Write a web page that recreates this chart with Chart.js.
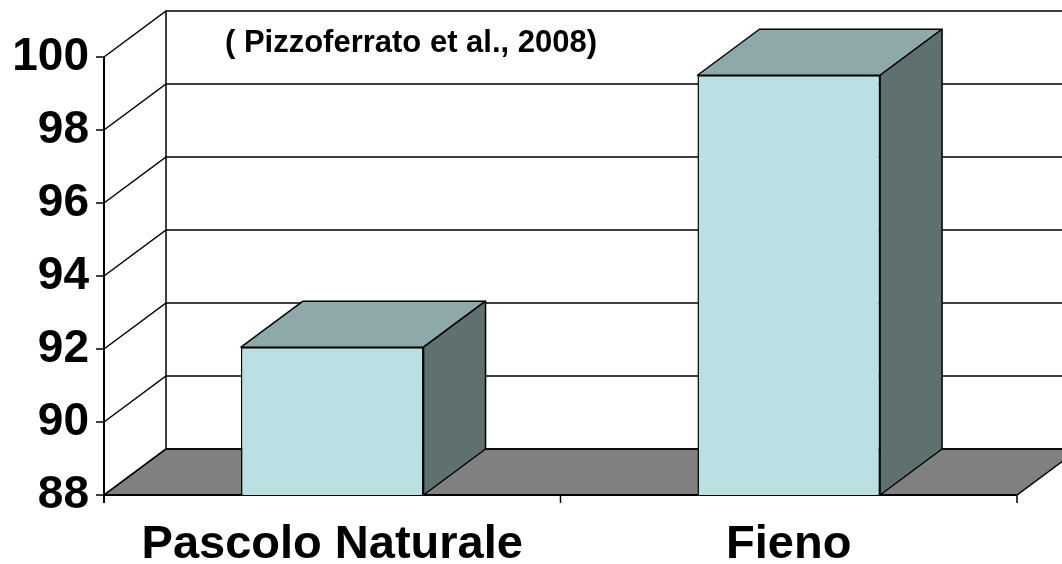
<!DOCTYPE html>
<html>
<head>
<meta charset="utf-8">
<script src="https://cdn.jsdelivr.net/npm/chart.js@4"></script>
<style>
    html, body { margin: 0; padding: 0; background: #fff; }
    canvas { display: block; }
</style>
</head>
<body>
<canvas id="chart" width="1062" height="564"></canvas>
<script>
const categories = ['Pascolo Naturale', 'Fieno'];
const values = [92.05, 99.5];
const yTicks = [88, 90, 92, 94, 96, 98, 100];
const sourceNote = '( Pizzoferrato et al., 2008)';

const FONT = "'Liberation Sans', Arial, sans-serif";
const FRONT_COLOR = '#bbe0e3';
const TOP_COLOR = '#8fa9ab';
const SIDE_COLOR = '#5f7070';
const FLOOR_COLOR = '#808080';
// depth of the 3d box (pixels to the back wall)
const DEPTH_X = 62;
const DEPTH_Y = 46;

function poly(ctx, pts, fill) {
    ctx.beginPath();
    ctx.moveTo(pts[0][0], pts[0][1]);
    for (let i = 1; i < pts.length; i++) ctx.lineTo(pts[i][0], pts[i][1]);
    ctx.closePath();
    if (fill) {
        ctx.fillStyle = fill;
        ctx.fill();
    }
    ctx.stroke();
}

const threeD = {
    id: 'threeD',
    beforeDatasetsDraw(chart) {
        const ctx = chart.ctx;
        const { left, right, top, bottom } = chart.chartArea;
        const y = chart.scales.y;
        ctx.save();
        ctx.strokeStyle = '#000';
        ctx.lineWidth = 1.5;

        // floor
        poly(ctx, [[left, bottom], [right, bottom], [right + DEPTH_X, bottom - DEPTH_Y], [left + DEPTH_X, bottom - DEPTH_Y]], FLOOR_COLOR);

        // side wall + back wall grid lines
        yTicks.forEach(v => {
            const py = y.getPixelForValue(v);
            ctx.beginPath();
            ctx.moveTo(left, py);
            ctx.lineTo(left + DEPTH_X, py - DEPTH_Y);
            ctx.lineTo(right + DEPTH_X, py - DEPTH_Y);
            ctx.stroke();
            // tick mark on the front axis
            ctx.beginPath();
            ctx.moveTo(left - 8, py);
            ctx.lineTo(left, py);
            ctx.stroke();
        });
        ctx.beginPath();
        ctx.moveTo(left + DEPTH_X, top - DEPTH_Y);
        ctx.lineTo(left + DEPTH_X, bottom - DEPTH_Y);
        ctx.stroke();

        // front axis
        ctx.lineWidth = 2;
        ctx.beginPath();
        ctx.moveTo(left, top);
        ctx.lineTo(left, bottom + 8);
        ctx.moveTo(left, bottom);
        ctx.lineTo(right, bottom);
        ctx.stroke();
        ctx.lineWidth = 1.5;
        const step = (right - left) / categories.length;
        for (let i = 1; i <= categories.length; i++) {
            ctx.beginPath();
            ctx.moveTo(left + step * i, bottom);
            ctx.lineTo(left + step * i, bottom + 8);
            ctx.stroke();
        }
        ctx.restore();
    },
    afterDatasetsDraw(chart) {
        const ctx = chart.ctx;
        const bottom = chart.chartArea.bottom;
        ctx.save();
        ctx.strokeStyle = '#000';
        ctx.lineWidth = 1.5;
        ctx.lineJoin = 'round';
        chart.getDatasetMeta(0).data.forEach(bar => {
            const x1 = bar.x - bar.width / 2;
            const x2 = bar.x + bar.width / 2;
            const yt = bar.y;
            poly(ctx, [[x1, yt], [x2, yt], [x2 + DEPTH_X, yt - DEPTH_Y], [x1 + DEPTH_X, yt - DEPTH_Y]], TOP_COLOR);
            poly(ctx, [[x2, yt], [x2 + DEPTH_X, yt - DEPTH_Y], [x2 + DEPTH_X, bottom - DEPTH_Y], [x2, bottom]], SIDE_COLOR);
        });
        ctx.restore();
    },
    afterDraw(chart) {
        const ctx = chart.ctx;
        ctx.save();
        ctx.fillStyle = '#000';
        ctx.font = 'bold 31px ' + FONT;
        ctx.textAlign = 'center';
        ctx.textBaseline = 'alphabetic';
        ctx.fillText(sourceNote, 411, 52);
        ctx.restore();
    },
};

new Chart(document.getElementById('chart'), {
    type: 'bar',
    data: {
        labels: categories,
        datasets: [{
            data: values,
            backgroundColor: FRONT_COLOR,
            borderColor: '#000',
            borderWidth: 1.5,
            categoryPercentage: 1,
            barPercentage: 0.4,
        }],
    },
    options: {
        responsive: false,
        animation: false,
        devicePixelRatio: 1,
        layout: { padding: { top: 57, right: 45, left: 0, bottom: 0 } },
        scales: {
            x: {
                grid: { display: false, drawTicks: false },
                border: { display: false },
                ticks: { color: '#000', font: { family: FONT, size: 47, weight: 'bold' }, padding: 22, maxRotation: 0 },
                afterFit: s => { s.height = 69; },
            },
            y: {
                min: 88,
                max: 100,
                grid: { display: false, drawTicks: false },
                border: { display: false },
                afterBuildTicks: s => { s.ticks = yTicks.map(v => ({ value: v })); },
                ticks: { color: '#000', font: { family: FONT, size: 46, weight: 'bold' }, padding: 15 },
                afterFit: s => { s.width = 104; },
            },
        },
        plugins: {
            legend: { display: false },
            tooltip: { enabled: false },
        },
    },
    plugins: [threeD],
});
</script>
</body>
</html>
